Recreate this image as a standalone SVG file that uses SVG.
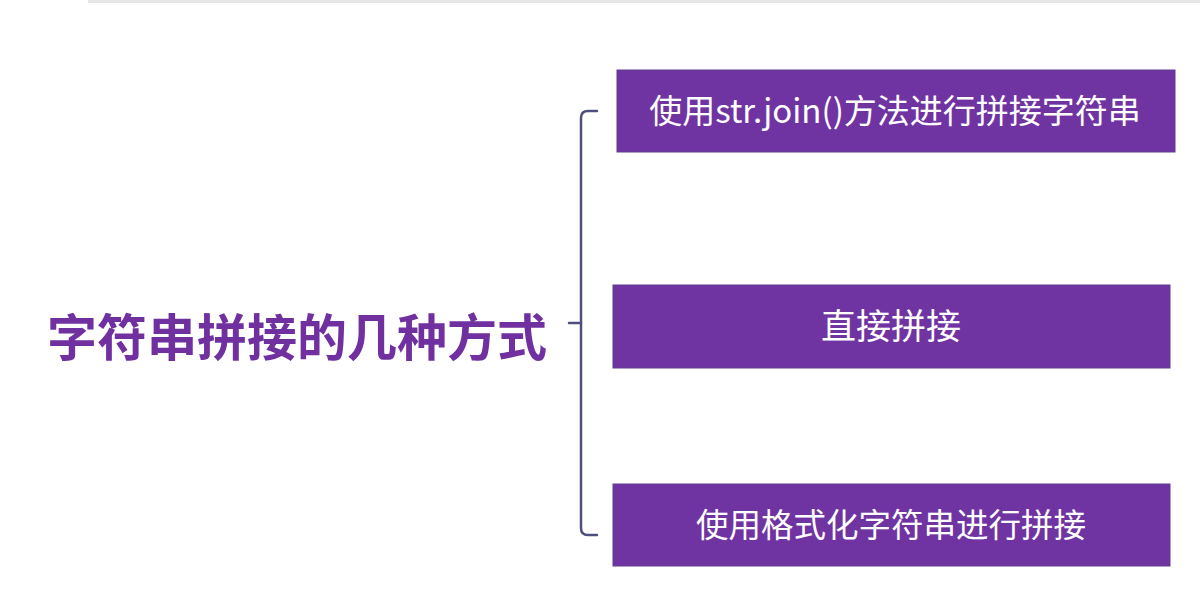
<svg xmlns="http://www.w3.org/2000/svg" width="1200" height="596" viewBox="0 0 1200 596">
<style>
.box{fill:#7034A2;stroke:#5E3C8E;stroke-width:1}
.bt{fill:#ffffff;font-family:"Microsoft YaHei","Noto Sans CJK SC",sans-serif;text-anchor:middle}
.title{fill:#7030A0;font-family:"Noto Sans CJK SC",sans-serif;font-weight:bold;font-size:50px}
.br{fill:none;stroke:#4E4F7E;stroke-width:2.5;stroke-linecap:round;stroke-linejoin:round}
</style>
<rect width="1200" height="596" fill="#ffffff"/>
<rect x="88" y="0" width="1112" height="3" fill="#e6e6e6"/>
<g id="title">
<text class="title" x="47" y="356">字符串拼接的几种方式</text>
</g>
<g id="connectors">
<path class="br" d="M597,111 L588,111 Q581,111 581,118 L581,528 Q581,535 588,535 L597,535"/>
<path class="br" d="M569,323 L581,323"/>
</g>
<g id="node1">
<rect class="box" x="617" y="70" width="558" height="82"/>
<text class="bt" x="895" y="123" font-size="33">使用str.join()方法进行拼接字符串</text>
</g>
<g id="node2">
<rect class="box" x="613" y="285" width="557" height="83"/>
<text class="bt" x="891" y="339" font-size="35">直接拼接</text>
</g>
<g id="node3">
<rect class="box" x="613" y="484" width="557" height="82"/>
<text class="bt" x="891" y="537" font-size="32.5">使用格式化字符串进行拼接</text>
</g>
</svg>
